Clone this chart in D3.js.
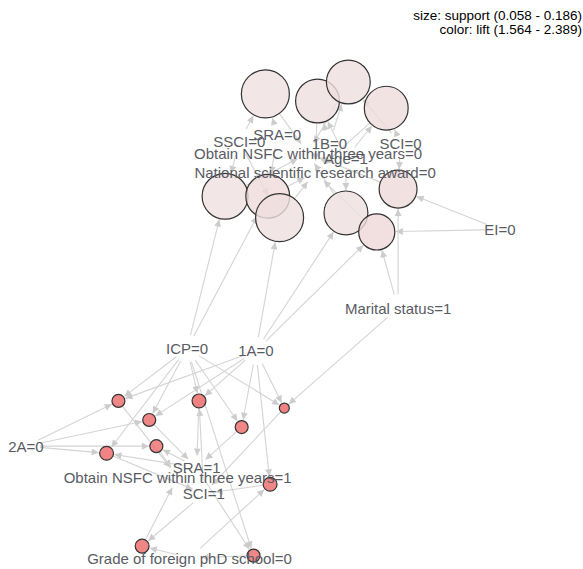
<!DOCTYPE html>
<html>
<head>
<meta charset="utf-8">
<script src="https://cdn.jsdelivr.net/npm/d3@7"></script>
<style>
  body { margin: 0; background: #fff; }
  text { font-family: "Liberation Sans", Arial, sans-serif; }
</style>
</head>
<body>
<svg id="chart"></svg>
<script>
// item vertices (labels only)
const items = [
  "SRA=0", "SSCI=0", "1B=0", "SCI=0", "Obtain NSFC within three years=0", "Age=1",
  "National scientific research award=0", "EI=0", "Marital status=1", "ICP=0", "1A=0",
  "2A=0", "SRA=1", "Obtain NSFC within three years=1", "SCI=1", "Grade of foreign phD school=0"
];
// layout coordinates (graph layout, -1..1)
const itemLayout = [
  [0.06, 0.78], [-0.10, 0.75], [0.28, 0.74], [0.58, 0.74], [0.19, 0.70], [0.35, 0.68],
  [0.22, 0.62], [1.00, 0.38], [0.57, 0.05], [-0.32, -0.12], [-0.03, -0.13],
  [-1.00, -0.53], [-0.28, -0.62], [-0.36, -0.66], [-0.25, -0.73], [-0.31, -1.00]
];

// rule vertices
const ruleLhs = [
  ["SSCI=0", "SRA=0"],
  ["1B=0", "Age=1"],
  ["1B=0", "SCI=0"],
  ["SCI=0", "Age=1"],
  ["ICP=0", "SSCI=0"],
  ["ICP=0", "SRA=0"],
  ["1A=0", "SSCI=0"],
  ["1A=0", "Age=1"],
  ["1A=0", "Marital status=1", "EI=0"],
  ["EI=0", "Marital status=1", "SCI=0"],
  ["ICP=0", "2A=0", "1A=0"],
  ["ICP=0", "2A=0", "1A=0"],
  ["ICP=0", "1A=0", "SCI=1"],
  ["2A=0", "SRA=1"],
  ["ICP=0", "2A=0", "SRA=1"],
  ["ICP=0", "1A=0"],
  ["ICP=0", "1A=0", "Marital status=1"],
  ["1A=0", "Grade of foreign phD school=0"],
  ["Grade of foreign phD school=0", "SCI=1"],
  ["ICP=0", "SRA=1"]
];
const ruleRhs = [
  "Obtain NSFC within three years=0",
  "National scientific research award=0",
  "Obtain NSFC within three years=0",
  "National scientific research award=0",
  "Obtain NSFC within three years=0",
  "National scientific research award=0",
  "National scientific research award=0",
  "Obtain NSFC within three years=0",
  "National scientific research award=0",
  "Obtain NSFC within three years=0",
  "Obtain NSFC within three years=1",
  "SRA=1",
  "SRA=1",
  "Obtain NSFC within three years=1",
  "SCI=1",
  "SRA=1",
  "SCI=1",
  "SCI=1",
  "Obtain NSFC within three years=1",
  "Grade of foreign phD school=0"
];
const ruleSupport = [
  0.186, 0.172, 0.172, 0.172, 0.179, 0.172, 0.186, 0.172, 0.146, 0.152,
  0.068, 0.068, 0.071, 0.068, 0.071, 0.068, 0.058, 0.071, 0.071, 0.068
];
const ruleLift = [
  1.564, 1.58, 1.57, 1.59, 1.566, 1.6, 1.57, 1.58, 1.62, 1.61,
  2.36, 2.35, 2.38, 2.33, 2.37, 2.35, 2.389, 2.34, 2.36, 2.35
];
const ruleLayout = [
  [0.01, 0.95], [0.23, 0.92], [0.36, 1.00], [0.52, 0.89], [-0.16, 0.52],
  [0.02, 0.52], [0.07, 0.43], [0.35, 0.45], [0.48, 0.37], [0.57, 0.55],
  [-0.61, -0.34], [-0.48, -0.42], [-0.27, -0.34], [-0.45, -0.53], [-0.66, -0.56],
  [-0.09, -0.45], [0.09, -0.37], [0.03, -0.69], [-0.51, -0.95], [-0.04, -0.99]
];

const width = 583, height = 569;
const svg = d3.select("#chart").attr("width", width).attr("height", height);

const x = d3.scaleLinear().domain([-1, 1]).range([26, 500]);
const y = d3.scaleLinear().domain([-1, 1]).range([558, 82]);
const size = d3.scaleLinear().domain([0.058, 0.186]).range([5, 24]);
const color = d3.scaleLinear().domain([1.564, 2.389]).range(["#efe0e0", "#ec6262"]);

// build nodes
const itemNodes = items.map((label, i) => ({
  id: label, type: "item", x: x(itemLayout[i][0]), y: y(itemLayout[i][1])
}));
const byId = new Map(itemNodes.map(d => [d.id, d]));
const ruleNodes = ruleLhs.map((lhs, i) => ({
  id: "rule" + (i + 1), type: "rule",
  x: x(ruleLayout[i][0]), y: y(ruleLayout[i][1]),
  r: size(ruleSupport[i]), support: ruleSupport[i], lift: ruleLift[i]
}));

const links = [];
ruleNodes.forEach((rule, i) => {
  ruleLhs[i].forEach(l => links.push({ source: byId.get(l), target: rule }));
  links.push({ source: rule, target: byId.get(ruleRhs[i]) });
});

// arrow head
svg.append("defs").append("marker")
  .attr("id", "arrow")
  .attr("viewBox", "0 0 10 10")
  .attr("refX", 10).attr("refY", 5)
  .attr("markerUnits", "userSpaceOnUse")
  .attr("markerWidth", 8).attr("markerHeight", 7)
  .attr("orient", "auto")
  .append("path")
  .attr("d", "M0,0L10,5L0,10Z")
  .attr("fill", "#cccccc");

// edges, clipped at the vertex borders
const linkGroup = svg.append("g").attr("class", "links");
linkGroup.selectAll("line")
  .data(links)
  .enter().append("line")
  .each(function(d) {
    const dx = d.target.x - d.source.x, dy = d.target.y - d.source.y;
    const len = Math.sqrt(dx * dx + dy * dy);
    const ux = dx / len, uy = dy / len;
    const s0 = d.source.type === "rule" ? d.source.r : 14;
    const s1 = d.target.type === "rule" ? d.target.r + 1 : 12;
    d3.select(this)
      .attr("x1", d.source.x + ux * s0).attr("y1", d.source.y + uy * s0)
      .attr("x2", d.target.x - ux * s1).attr("y2", d.target.y - uy * s1);
  })
  .attr("stroke", "#d4d4d4")
  .attr("stroke-width", 1.1)
  .attr("marker-end", "url(#arrow)");

// rule circles
const nodeGroup = svg.append("g").attr("class", "nodes");
nodeGroup.selectAll("circle")
  .data(ruleNodes)
  .enter().append("circle")
  .attr("cx", d => d.x)
  .attr("cy", d => d.y)
  .attr("r", d => d.r)
  .attr("fill", d => color(d.lift))
  .attr("fill-opacity", 0.8)
  .attr("stroke", "#333")
  .attr("stroke-width", 1.2);

// item labels
const labelGroup = svg.append("g").attr("class", "labels");
labelGroup.selectAll("text")
  .data(itemNodes)
  .enter().append("text")
  .attr("x", d => d.x)
  .attr("y", d => d.y)
  .attr("text-anchor", "middle")
  .attr("dominant-baseline", "central")
  .attr("font-size", 15)
  .attr("fill", "#595b63")
  .text(d => d.id);

// legend
const fmt = d3.format(".3f");
const legend = [
  `size: support (${fmt(d3.min(ruleSupport))} - ${fmt(d3.max(ruleSupport))})`,
  `color: lift (${fmt(d3.min(ruleLift))} - ${fmt(d3.max(ruleLift))})`
];
svg.append("g").selectAll("text")
  .data(legend)
  .enter().append("text")
  .attr("x", 582)
  .attr("y", (d, i) => 15 + i * 14)
  .attr("text-anchor", "end")
  .attr("dominant-baseline", "central")
  .attr("font-size", 13.5)
  .attr("fill", "#000")
  .text(d => d);
</script>
</body>
</html>
